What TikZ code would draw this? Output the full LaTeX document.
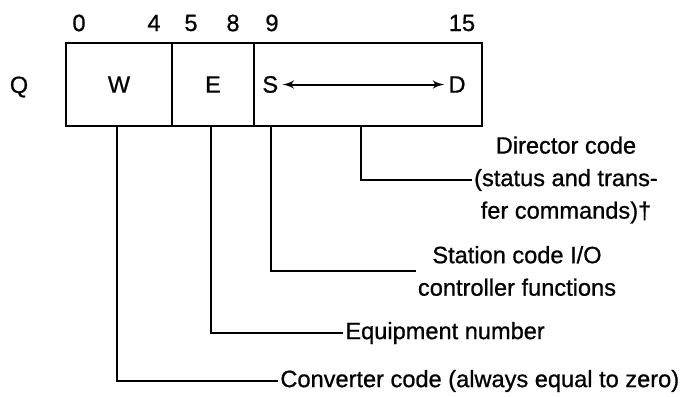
\documentclass[tikz,border=0pt]{standalone}
\usepackage{fontspec}
\setmainfont{Liberation Sans}[FakeBold=0.8]
\usetikzlibrary{arrows,positioning}

\begin{document}
\begin{tikzpicture}[>=latex', x=0.5pt, y=-0.5pt,
		font=\fontsize{11.8}{16.25}\selectfont,
		field/.style={draw, line width=1.25pt, outer sep=0pt, minimum height=41.5pt},
		lbl/.style={inner sep=1pt, align=center},
		leader/.style={line width=1pt}]
	\useasboundingbox (0,0) rectangle (684,396);
	% word layout
	\node[field, minimum width=53pt] (W) at (119,84.5) {W};
	\node[field, minimum width=41pt, right=0pt of W] (E) {E};
	\node[field, minimum width=114pt, right=0pt of E] (SD) {};
	\node[inner sep=2pt, right=2pt of SD.west] (S) {S};
	\node[inner sep=2pt, left=6pt of SD.east] (D) {D};
	\draw[<->, line width=1pt] (S) -- (D);
	\node (Q) at (19,87) {Q};
	% bit numbers
	\foreach \pos/\num in {79/0, 154/4, 191/5, 233/8, 272/9, 462/15}
		\node (n\num) at (\pos,23) {\num};
	% leaders
	\coordinate (wl) at (117,126);
	\coordinate (el) at (211,126);
	\coordinate (sl) at (271,126);
	\coordinate (dl) at (361,126);
	\node[lbl, anchor=west] (conv) at (278,381) {Converter code (always equal to zero)};
	\node[lbl, anchor=west] (equip) at (343,333) {Equipment number};
	\node[lbl] (station) at (517,271) {Station code I/O\\controller functions};
	\node[lbl] (director) at (566,180) {Director code\\(status and trans-\\fer commands)\textdagger};
	\draw[leader] (wl) |- (conv.west);
	\draw[leader] (el) |- (equip.west);
	\draw[leader] (sl) |- (station.west);
	\draw[leader] (dl) |- (director.west);
\end{tikzpicture}
\end{document}
